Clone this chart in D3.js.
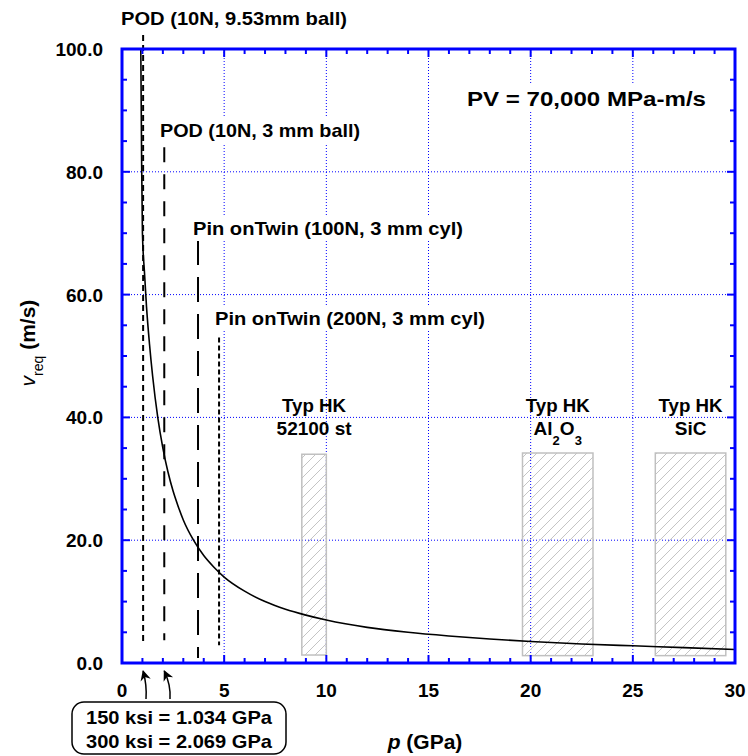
<!DOCTYPE html>
<html><head><meta charset="utf-8">
<script src="https://cdn.jsdelivr.net/npm/d3@7"></script>
<style>
html,body{margin:0;padding:0;background:#fff;}
text{font-family:"Liberation Sans",Arial,sans-serif;font-weight:bold;fill:#000;}
</style></head>
<body>
<svg id="chart" width="748" height="756"></svg>
<script>
// ---- data ----
const curveP = [0.92,0.96,1.00,1.10,1.20,1.35,1.50,1.75,2.00,2.25,2.50,2.75,3.00,3.50,4.00,4.50,5.00,6.00,7.00,8.00,9.00,10.0,12.0,14.0,16.0,18.0,20.0,22.5,25.0,27.5,30.0];
const curveV = [100,82,70,63.6,58,51.8,46.7,40,35,31.1,28,25.5,23.3,20,17.5,15.6,14,11.7,10,8.75,7.8,7,5.8,5,4.4,3.9,3.5,3.1,2.8,2.5,2.2];

const refLabels = ["POD (10N, 9.53mm ball)","POD (10N, 3 mm ball)","Pin onTwin (100N, 3 mm cyl)","Pin onTwin (200N, 3 mm cyl)"];
const refP      = [1.034, 2.069, 3.72, 4.75];
const refTop    = [102.3, 84, 68.9, 53];
const refBottom = [3.6, 3.7, 0.8, 2.9];

const hkLabels  = ["52100 st","Al2O3","SiC"];
const hkPmin    = [8.8, 19.6, 26.1];
const hkPmax    = [10.0, 23.05, 29.55];
const hkVmin    = [1.3, 1.2, 1.2];
const hkVmax    = [34.0, 34.2, 34.2];

const xTicks = [0,5,10,15,20,25,30];
const yTicks = [0,20,40,60,80,100];
const legendLines = ["150 ksi = 1.034 GPa","300 ksi = 2.069 GPa"];
const pvLabel = "PV = 70,000 MPa-m/s";

// ---- layout ----
const svg = d3.select("#chart");
const L=122, R=735, T=49, B=663;
const x = d3.scaleLinear().domain([0,30]).range([L,R]);
const y = d3.scaleLinear().domain([0,100]).range([B,T]);
const blue="#0000ff";

const defs = svg.append("defs");
const pat = defs.append("pattern").attr("id","hatch").attr("patternUnits","userSpaceOnUse")
  .attr("width",10).attr("height",10);
pat.append("path").attr("d","M-2.5,2.5 l5,-5 M0,10 l10,-10 M7.5,12.5 l5,-5")
  .attr("stroke","#c4c4c4").attr("stroke-width",1);
defs.append("clipPath").attr("id","clip").append("rect").attr("x",L).attr("y",T).attr("width",R-L).attr("height",B-T);
defs.append("marker").attr("id","arr").attr("viewBox","0 0 10 10").attr("refX",9).attr("refY",5)
  .attr("markerWidth",7).attr("markerHeight",8).attr("orient","auto")
  .append("path").attr("d","M0,0 L10,5 L0,10 L3,5 Z").attr("fill","#000");

// grid
const grid = svg.append("g");
xTicks.filter(d=>d>0&&d<30).forEach(d=>{
  grid.append("line").attr("x1",x(d)).attr("x2",x(d)).attr("y1",T).attr("y2",B)
    .attr("stroke",blue).attr("stroke-width",1).attr("stroke-dasharray","1,2");
});
yTicks.filter(d=>d>0&&d<100).forEach(d=>{
  grid.append("line").attr("x1",L).attr("x2",R).attr("y1",y(d)).attr("y2",y(d))
    .attr("stroke",blue).attr("stroke-width",1).attr("stroke-dasharray","1,2");
});

function fitText(sel,len){ return sel.attr("textLength",len).attr("lengthAdjust","spacingAndGlyphs"); }

// hatched boxes
hkLabels.forEach((lab,i)=>{
  svg.append("rect").attr("x",x(hkPmin[i])).attr("y",y(hkVmax[i]))
    .attr("width",x(hkPmax[i])-x(hkPmin[i])).attr("height",y(hkVmin[i])-y(hkVmax[i]))
    .attr("fill","url(#hatch)").attr("stroke","#c0c0c0").attr("stroke-width",1.5);
  const cx = (x(hkPmin[i])+x(hkPmax[i]))/2;
  fitText(svg.append("text").attr("x",cx).attr("y",412).attr("text-anchor","middle").attr("font-size",19).text("Typ HK"),64);
  const t = svg.append("text").attr("x",cx).attr("y",435).attr("text-anchor","middle").attr("font-size",19);
  if(lab==="Al2O3"){
    t.append("tspan").text("Al");
    t.append("tspan").attr("font-size",13).attr("dy",10).text("2");
    t.append("tspan").attr("dy",-10).text("O");
    t.append("tspan").attr("font-size",13).attr("dy",10).text("3");
  } else t.text(lab);
});

// labels with white background
function bgLabel(tx,ty,str,size,len,anchor){
  const g = svg.append("g");
  const t = g.append("text").attr("x",tx).attr("y",ty).attr("font-size",size).attr("text-anchor",anchor||"start").text(str);
  fitText(t,len);
  const bb = t.node().getBBox();
  g.insert("rect","text").attr("x",bb.x-3).attr("y",bb.y-2).attr("width",bb.width+6).attr("height",bb.height+4).attr("fill","#fff");
  return g;
}

// reference dashed lines
const dashes = ["6,4","15,12","25,12","5,3"];
refP.forEach((p,i)=>{
  svg.append("line").attr("x1",x(p)).attr("x2",x(p)).attr("y1",y(refTop[i])).attr("y2",y(refBottom[i]))
    .attr("stroke","#000").attr("stroke-width",2).attr("stroke-dasharray",dashes[i]);
});

bgLabel(121,25,refLabels[0],19,226);
bgLabel(160,137,refLabels[1],19,200);
bgLabel(193,235,refLabels[2],19,270);
bgLabel(215,325,refLabels[3],19,270);
bgLabel(467,106,pvLabel,21,239);

// curve
const line = d3.line().x((d,i)=>x(curveP[i])).y((d,i)=>y(curveV[i])).curve(d3.curveMonotoneX);
svg.append("path").datum(curveV).attr("d",line).attr("fill","none").attr("stroke","#000")
  .attr("stroke-width",1.6).attr("clip-path","url(#clip)");

// axes ticks (inside) all four sides
const ax = svg.append("g");
d3.range(0,31,1).forEach(d=>{
  const len = (d%5===0)?8:5;
  ax.append("line").attr("x1",x(d)).attr("x2",x(d)).attr("y1",B).attr("y2",B-len).attr("stroke",blue).attr("stroke-width",2);
  ax.append("line").attr("x1",x(d)).attr("x2",x(d)).attr("y1",T).attr("y2",T+len).attr("stroke",blue).attr("stroke-width",2);
});
d3.range(0,101,5).forEach(d=>{
  const len = (d%20===0)?8:5;
  ax.append("line").attr("x1",L).attr("x2",L+len).attr("y1",y(d)).attr("y2",y(d)).attr("stroke",blue).attr("stroke-width",2);
  ax.append("line").attr("x1",R).attr("x2",R-len).attr("y1",y(d)).attr("y2",y(d)).attr("stroke",blue).attr("stroke-width",2);
});
svg.append("rect").attr("x",L).attr("y",T).attr("width",R-L).attr("height",B-T)
  .attr("fill","none").attr("stroke",blue).attr("stroke-width",3);

// tick labels
xTicks.forEach(d=>{
  svg.append("text").attr("x",x(d)).attr("y",697).attr("text-anchor","middle").attr("font-size",19).text(d);
});
yTicks.forEach(d=>{
  svg.append("text").attr("x",103).attr("y",y(d)+7).attr("text-anchor","end").attr("font-size",19).text(d3.format(".1f")(d));
});

// axis titles
const xt = svg.append("text").attr("x",425).attr("y",749).attr("text-anchor","middle").attr("font-size",21);
xt.append("tspan").attr("font-style","italic").text("p");
xt.append("tspan").text(" (GPa)");

const yt = svg.append("text").attr("transform","translate(35,343) rotate(-90)").attr("text-anchor","middle").attr("font-size",21);
yt.append("tspan").attr("font-style","italic").attr("font-weight","normal").text("v");
yt.append("tspan").attr("font-size",14).attr("font-weight","normal").attr("dy",8).text("req");
yt.append("tspan").attr("dy",-8).text("  (m/s)");

// arrows
const arrowTails = [[146,699],[170,699]];
refP.slice(0,2).forEach((p,i)=>{
  const [tx,ty]=arrowTails[i];
  const hx=x(p), hy=671;
  svg.append("path").attr("d",`M${tx},${ty} Q${tx+1},${(ty+hy)/2} ${hx},${hy}`)
    .attr("fill","none").attr("stroke","#000").attr("stroke-width",1.5).attr("marker-end","url(#arr)");
});

// legend box
svg.append("rect").attr("x",72).attr("y",702).attr("width",214).attr("height",52).attr("rx",12)
  .attr("fill","#fff").attr("stroke","#000").attr("stroke-width",1.5);
legendLines.forEach((s,i)=>{
  fitText(svg.append("text").attr("x",179).attr("y",724+i*24).attr("text-anchor","middle").attr("font-size",19).text(s),186);
});
</script>
</body></html>
